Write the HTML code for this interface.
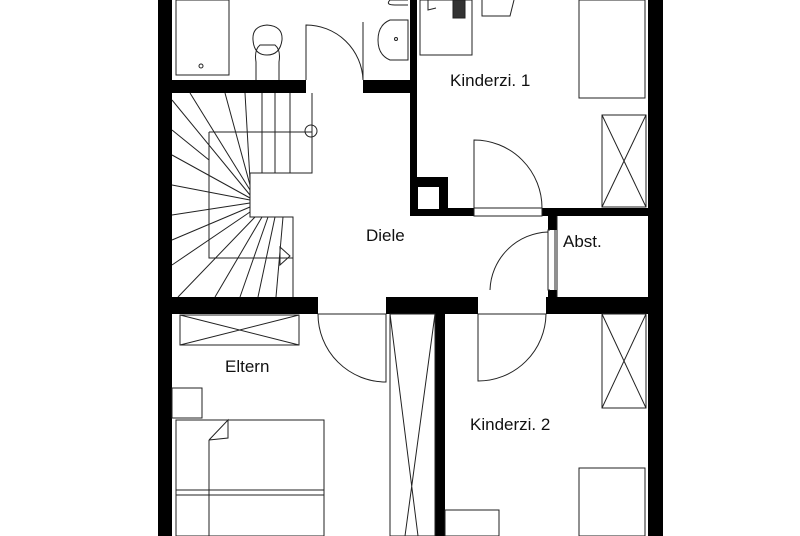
<!DOCTYPE html>
<html><head><meta charset="utf-8"><style>
html,body{margin:0;padding:0;background:#fff;}
svg{display:block;}
text{font-family:"Liberation Sans",sans-serif;font-size:17px;fill:#111;}
</style></head><body>
<svg width="800" height="536" viewBox="0 0 800 536" xmlns="http://www.w3.org/2000/svg">
<rect width="800" height="536" fill="#fff"/>
<g fill="#000">
<rect x="158" y="0" width="14" height="536"/>
<rect x="648" y="0" width="15" height="536"/>
<rect x="158" y="80" width="148" height="13"/>
<rect x="363" y="80" width="54" height="13"/>
<rect x="410" y="0" width="7" height="216"/>
<rect x="410" y="177" width="38" height="39"/>
<rect x="410" y="208" width="64" height="8"/>
<rect x="542" y="208" width="121" height="8"/>
<rect x="548" y="208" width="9" height="22"/>
<rect x="548" y="290" width="9" height="10"/>
<rect x="158" y="297" width="160" height="17"/>
<rect x="386" y="297" width="92" height="17"/>
<rect x="546" y="297" width="117" height="17"/>
<rect x="435" y="314" width="10" height="222"/>
</g>
<rect x="418" y="187" width="21" height="22" fill="#fff"/>
<g fill="none" stroke="#222" stroke-width="1">
<rect x="176" y="0" width="53" height="75"/>
<circle cx="201" cy="66" r="2"/>
<path d="M256 80 V62 Q254 50 260 45 H275 Q281 50 279 62 V80"/>
<path d="M253 40 Q252 26 267 25 Q283 26 282 40 Q280 55 267 55 Q254 55 253 40Z"/>
<path d="M306 80 V25 A57 57 0 0 1 363 80"/>
<line x1="363" y1="22" x2="363" y2="80"/>
<path d="M408 20 H390 Q378 25 378 40 Q378 55 390 60 H408Z"/>
<circle cx="396" cy="39" r="1.5"/>
<path d="M408 0 H390 Q385 5 395 5 H408"/>
<rect x="420" y="0" width="52" height="55"/>
<rect x="453" y="0" width="12" height="18" fill="#333"/>
<path d="M482 0 V16 H510 L514 0"/>
<path d="M428 0 V10 L436 8"/>
<rect x="579" y="0" width="66" height="98"/>
<rect x="602" y="115" width="44" height="92"/>
<path d="M602 115 L646 207 M646 115 L602 207"/>
<path d="M474 208 V140 A68 68 0 0 1 542 208"/>
<rect x="474" y="208" width="68" height="8"/>
<path d="M550 230 H548 V290 H550 M555 230 V290"/>
<path d="M490 290 A60 60 0 0 1 548 232 V290"/>
<line x1="557" y1="216" x2="557" y2="297"/>
<path d="M312 93 V173 H250 V217 H293 V297"/>
<path d="M209 132 H312 M209 132 V258 H293"/>
<circle cx="311" cy="131" r="6"/>
<path d="M280 247 L290 256 L280 265Z"/>
<g>
<line x1="250" y1="195" x2="172" y2="100"/>
<line x1="250" y1="190" x2="190" y2="93"/>
<line x1="250" y1="185" x2="225" y2="93"/>
<line x1="250" y1="180" x2="245" y2="93"/>
<line x1="262" y1="173" x2="262" y2="93"/>
<line x1="275" y1="173" x2="275" y2="93"/>
<line x1="290" y1="173" x2="290" y2="93"/>
<line x1="250" y1="198" x2="172" y2="155"/>
<line x1="250" y1="200" x2="172" y2="185"/>
<line x1="250" y1="203" x2="172" y2="215"/>
<line x1="250" y1="207" x2="172" y2="240"/>
<line x1="250" y1="212" x2="172" y2="265"/>
<line x1="255" y1="217" x2="178" y2="297"/>
<line x1="262" y1="217" x2="215" y2="297"/>
<line x1="268" y1="217" x2="240" y2="297"/>
<line x1="275" y1="217" x2="258" y2="297"/>
<line x1="283" y1="217" x2="276" y2="297"/>
<line x1="172" y1="130" x2="209" y2="160"/>
</g>
<path d="M318 314 A68 68 0 0 0 386 382 V314"/>
<path d="M478 314 V381 A68 68 0 0 0 546 314"/>
<line x1="318" y1="314" x2="386" y2="314"/>
<line x1="478" y1="314" x2="546" y2="314"/>
<rect x="180" y="315" width="119" height="30"/>
<path d="M180 315 L299 345 M299 315 L180 345"/>
<rect x="172" y="388" width="30" height="30"/>
<rect x="176" y="420" width="148" height="116"/>
<line x1="176" y1="490" x2="324" y2="490"/>
<line x1="209" y1="440" x2="209" y2="536"/>
<path d="M209 440 L228 420 V438 L209 440"/>
<line x1="176" y1="495" x2="324" y2="495"/>
<rect x="390" y="314" width="45" height="222"/>
<path d="M390 314 L418 536 M435 314 L405 536"/>
<rect x="602" y="314" width="44" height="94"/>
<path d="M602 314 L646 408 M646 314 L602 408"/>
<rect x="579" y="468" width="66" height="68"/>
<rect x="445" y="510" width="54" height="26"/>
</g>
<text x="450" y="86">Kinderzi. 1</text>
<text x="366" y="241">Diele</text>
<text x="563" y="247">Abst.</text>
<text x="225" y="372">Eltern</text>
<text x="470" y="430">Kinderzi. 2</text>
</svg>
</body></html>
